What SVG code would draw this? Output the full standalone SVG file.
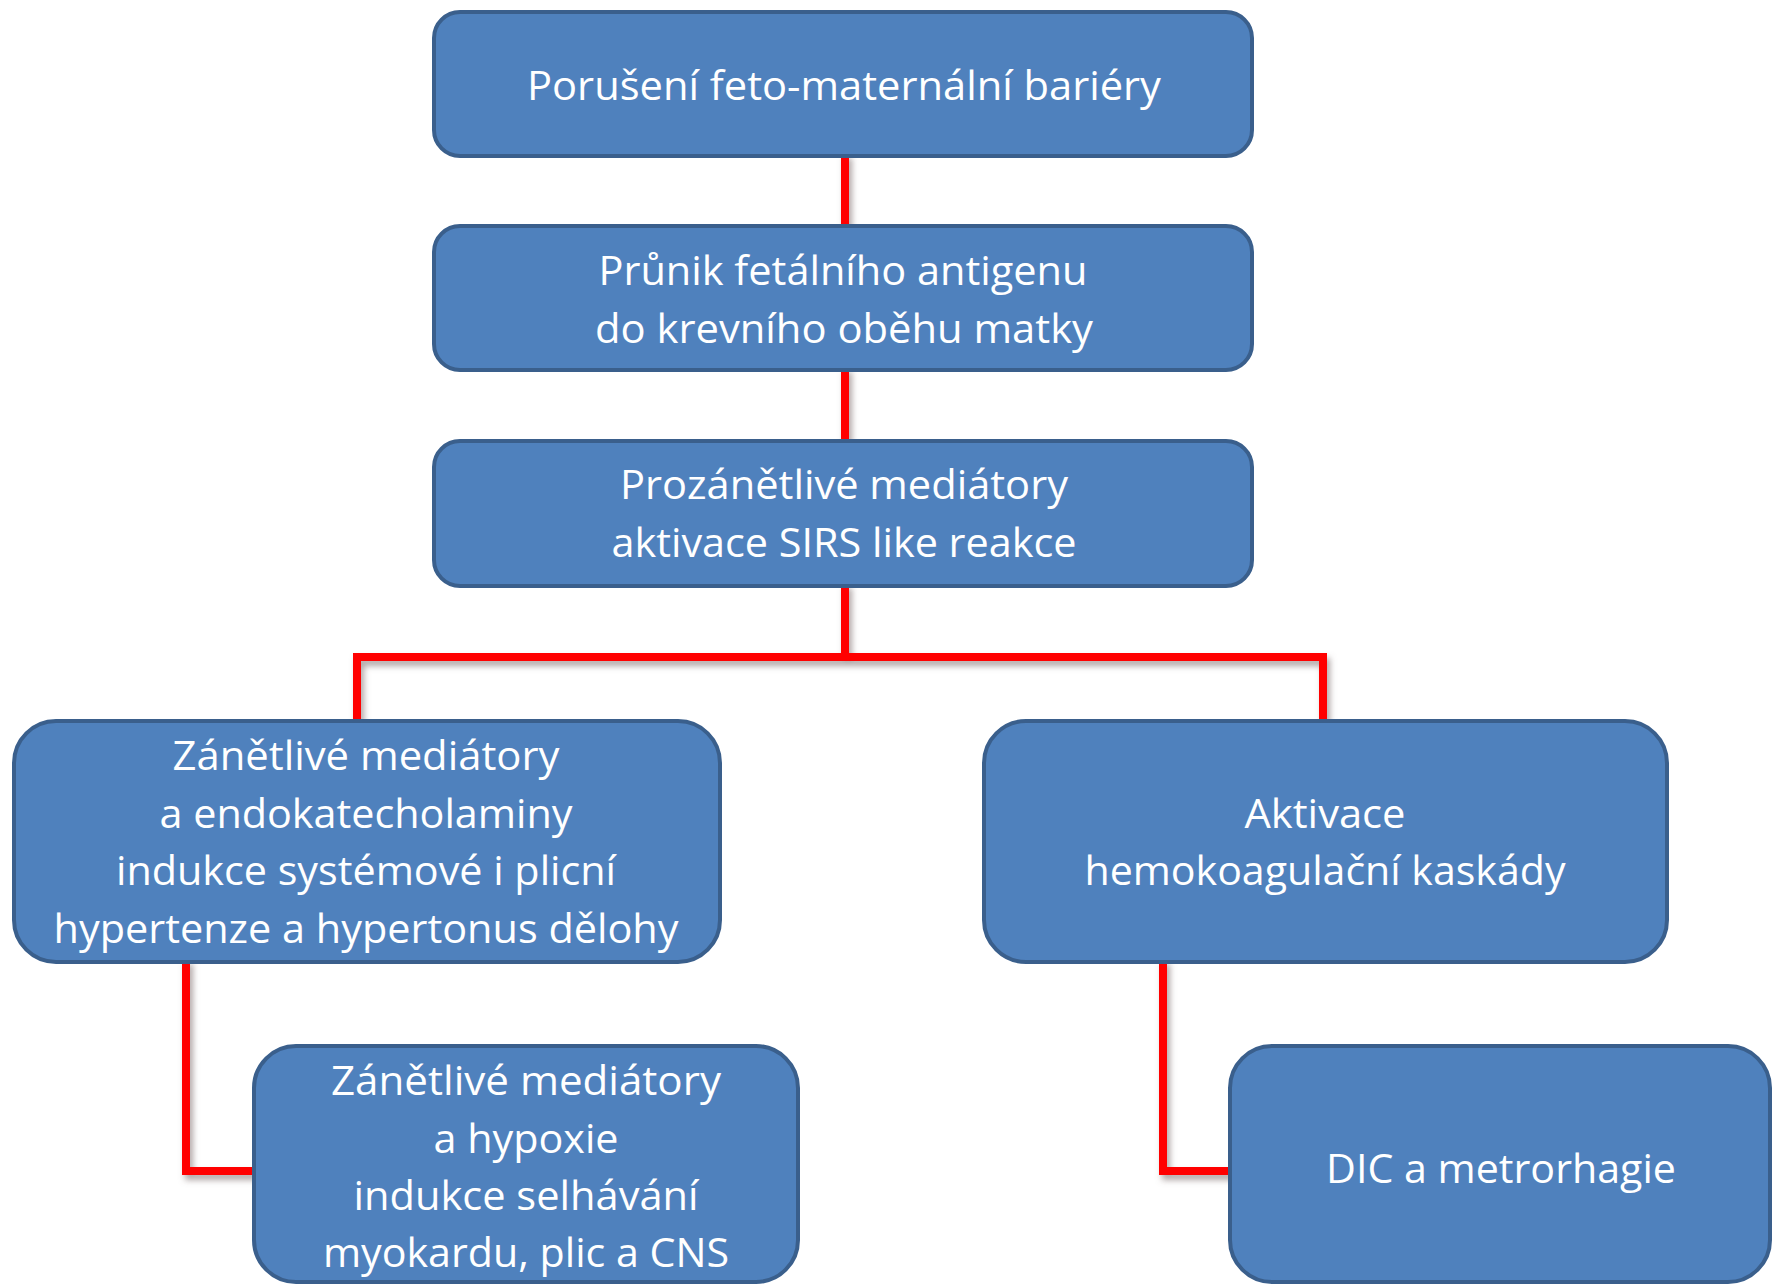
<svg xmlns="http://www.w3.org/2000/svg" width="1776" height="1286" viewBox="0 0 1776 1286">
<style>
.box{fill:#4F81BD;stroke:#3A5F8C;stroke-width:4}
.t{font-family:"Open Sans","Noto Sans","Liberation Sans",sans-serif;font-size:40px;fill:#FFFFFF;text-anchor:middle}
.c{fill:none;stroke:#FF0000;stroke-width:8;stroke-linecap:square;stroke-linejoin:miter}
</style>
<defs>
<filter id="sh" x="-10%" y="-10%" width="120%" height="120%">
<feDropShadow dx="3" dy="5" stdDeviation="3" flood-color="#7a6a6a" flood-opacity="0.6"/>
</filter>
</defs>
<rect width="1776" height="1286" fill="#FFFFFF"/>
<g id="connectors" filter="url(#sh)">
<path class="c" d="M845 157 V224"/>
<path class="c" d="M845 371 V439"/>
<path class="c" d="M845 587 V657 M357 719 V657 H1323 V719"/>
<path class="c" d="M186 963 V1171 H252"/>
<path class="c" d="M1163 963 V1171 H1228"/>
</g>
<g id="n1">
<rect class="box" x="434" y="12" width="818" height="144" rx="26"/>
<text class="t" x="844" y="100" textLength="634" lengthAdjust="spacingAndGlyphs">Porušení feto-maternální bariéry</text>
</g>
<g id="n2">
<rect class="box" x="434" y="226" width="818" height="144" rx="26"/>
<text class="t" x="843" y="285" textLength="489" lengthAdjust="spacingAndGlyphs">Průnik fetálního antigenu</text>
<text class="t" x="844" y="343" textLength="498" lengthAdjust="spacingAndGlyphs">do krevního oběhu matky</text>
</g>
<g id="n3">
<rect class="box" x="434" y="441" width="818" height="145" rx="26"/>
<text class="t" x="844" y="499" textLength="448" lengthAdjust="spacingAndGlyphs">Prozánětlivé mediátory</text>
<text class="t" x="844" y="557" textLength="465" lengthAdjust="spacingAndGlyphs">aktivace SIRS like reakce</text>
</g>
<g id="n4">
<rect class="box" x="14" y="721" width="706" height="241" rx="42"/>
<text class="t" x="366" y="770" textLength="387" lengthAdjust="spacingAndGlyphs">Zánětlivé mediátory</text>
<text class="t" x="366" y="828" textLength="413" lengthAdjust="spacingAndGlyphs">a endokatecholaminy</text>
<text class="t" x="366" y="885" textLength="500" lengthAdjust="spacingAndGlyphs">indukce systémové i plicní</text>
<text class="t" x="366" y="943" textLength="625" lengthAdjust="spacingAndGlyphs">hypertenze a hypertonus dělohy</text>
</g>
<g id="n5">
<rect class="box" x="984" y="721" width="683" height="241" rx="42"/>
<text class="t" x="1325" y="828" textLength="161" lengthAdjust="spacingAndGlyphs">Aktivace</text>
<text class="t" x="1325" y="885" textLength="481" lengthAdjust="spacingAndGlyphs">hemokoagulační kaskády</text>
</g>
<g id="n6">
<rect class="box" x="254" y="1046" width="544" height="236" rx="42"/>
<text class="t" x="526" y="1095" textLength="390" lengthAdjust="spacingAndGlyphs">Zánětlivé mediátory</text>
<text class="t" x="526" y="1153" textLength="185" lengthAdjust="spacingAndGlyphs">a hypoxie</text>
<text class="t" x="526" y="1210" textLength="345" lengthAdjust="spacingAndGlyphs">indukce selhávání</text>
<text class="t" x="526" y="1267" textLength="406" lengthAdjust="spacingAndGlyphs">myokardu, plic a CNS</text>
</g>
<g id="n7">
<rect class="box" x="1230" y="1046" width="540" height="236" rx="42"/>
<text class="t" x="1501" y="1183" textLength="350" lengthAdjust="spacingAndGlyphs">DIC a metrorhagie</text>
</g>
</svg>
